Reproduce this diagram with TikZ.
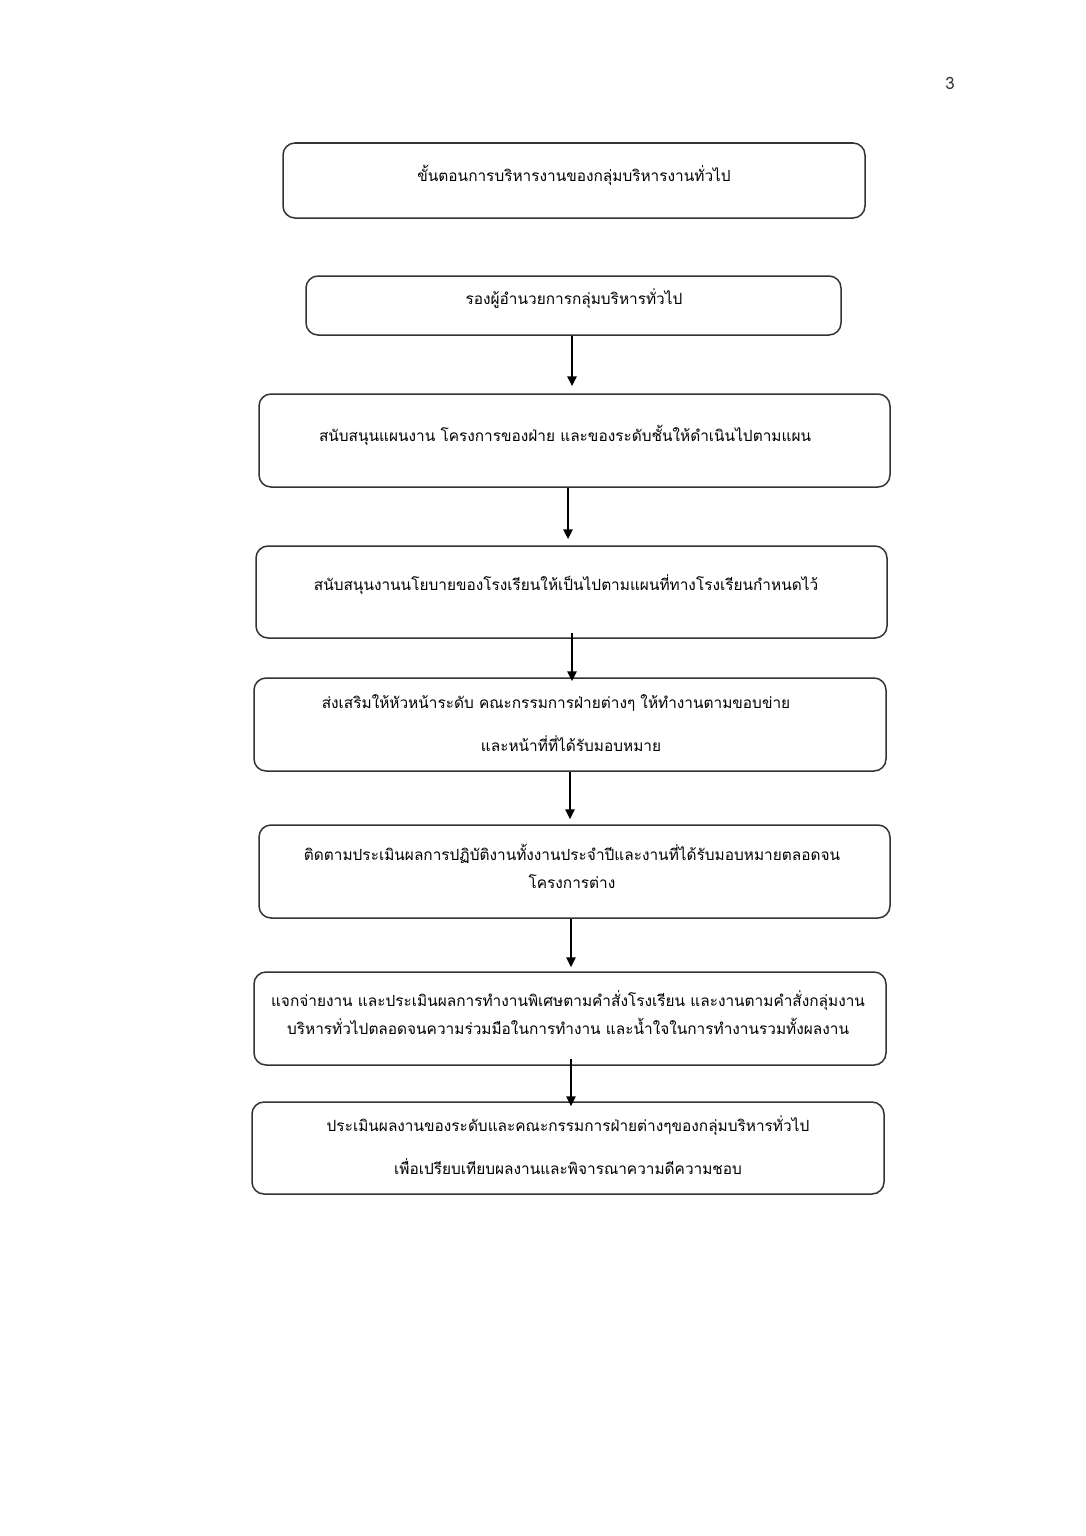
\documentclass[tikz,border=0pt]{standalone}
\usepackage{fontspec}
\newfontfamily\thaifont[Script=Thai]{Loma}
\usetikzlibrary{arrows.meta,calc}
\tikzset{
  box/.style={draw=black!80, line width=0.75pt, rounded corners=6pt, inner sep=0pt},
  txt/.style={font=\thaifont\fontsize{7.7}{14}\selectfont, align=center, inner sep=0pt, text=black},
  arr/.style={line width=1.2pt, -{Triangle[length=5pt,width=4.5pt]}}
}
\begin{document}
\begin{tikzpicture}[x=0.5pt,y=-0.5pt]
\useasboundingbox[fill=white] (0,0) rectangle (1086,1536);
\node[font=\thaifont\fontsize{8.5}{10}\selectfont, text=black!80, inner sep=0pt] (pg) at (950,83) {3};
% boxes
\node[box, minimum width=291pt, minimum height=37.5pt] (b1) at (574,180.5) {};
\node[box, minimum width=267.5pt, minimum height=29.5pt] (b2) at (573.5,305.5) {};
\node[box, minimum width=315.5pt, minimum height=46.5pt] (b3) at (574.5,440.5) {};
\node[box, minimum width=315.5pt, minimum height=46pt] (b4) at (571.5,592) {};
\node[box, minimum width=316pt, minimum height=46.5pt] (b5) at (570,724.5) {};
\node[box, minimum width=315.5pt, minimum height=46.5pt] (b6) at (574.5,871.5) {};
\node[box, minimum width=316pt, minimum height=46.5pt] (b7) at (570,1018.5) {};
\node[box, minimum width=316pt, minimum height=46pt] (b8) at (568,1148) {};
% texts
\node[txt] (t1) at (574,175) {ขั้นตอนการบริหารงานของกลุ่มบริหารงานทั่วไป};
\node[txt] (t2) at (574,299) {รองผู้อำนวยการกลุ่มบริหารทั่วไป};
\node[txt] (t3) at (565,435) {สนับสนุนแผนงาน โครงการของฝ่าย และของระดับชั้นให้ดำเนินไปตามแผน};
\node[txt] (t4) at (566,585) {สนับสนุนงานนโยบายของโรงเรียนให้เป็นไปตามแผนที่ทางโรงเรียนกำหนดไว้};
\node[txt] (t5a) at (556,703) {ส่งเสริมให้หัวหน้าระดับ คณะกรรมการฝ่ายต่างๆ ให้ทำงานตามขอบข่าย};
\node[txt] (t5b) at (571,744) {และหน้าที่ที่ได้รับมอบหมาย};
\node[txt] (t6) at (572,866) {ติดตามประเมินผลการปฏิบัติงานทั้งงานประจำปีและงานที่ได้รับมอบหมายตลอดจน\\โครงการต่าง};
\node[txt] (t7) at (568,1013) {แจกจ่ายงาน และประเมินผลการทำงานพิเศษตามคำสั่งโรงเรียน และงานตามคำสั่งกลุ่มงาน\\บริหารทั่วไปตลอดจนความร่วมมือในการทำงาน และน้ำใจในการทำงานรวมทั้งผลงาน};
\node[txt] (t8a) at (568,1126) {ประเมินผลงานของระดับและคณะกรรมการฝ่ายต่างๆของกลุ่มบริหารทั่วไป};
\node[txt] (t8b) at (568,1167) {เพื่อเปรียบเทียบผลงานและพิจารณาความดีความชอบ};
% arrows
\draw[arr] ([xshift=-0.75pt]b2.south) -- ([xshift=-0.75pt,yshift=3.5pt]b2.south |- b3.north);
\draw[arr] ([xshift=-3.25pt]b3.south) -- ([xshift=-3.25pt,yshift=3pt]b3.south |- b4.north);
\draw[arr] ([xshift=0.25pt,yshift=3pt]b4.south) -- ([xshift=0.25pt,yshift=-2pt]b4.south |- b5.north);
\draw[arr] (b5.south) -- ([yshift=2.5pt]b5.south |- b6.north);
\draw[arr] ([xshift=-1.75pt]b6.south) -- ([xshift=-1.75pt,yshift=2pt]b6.south |- b7.north);
\draw[arr] ([xshift=0.5pt,yshift=3.5pt]b7.south) -- ([xshift=0.5pt,yshift=-2.5pt]b7.south |- b8.north);
\end{tikzpicture}
\end{document}
